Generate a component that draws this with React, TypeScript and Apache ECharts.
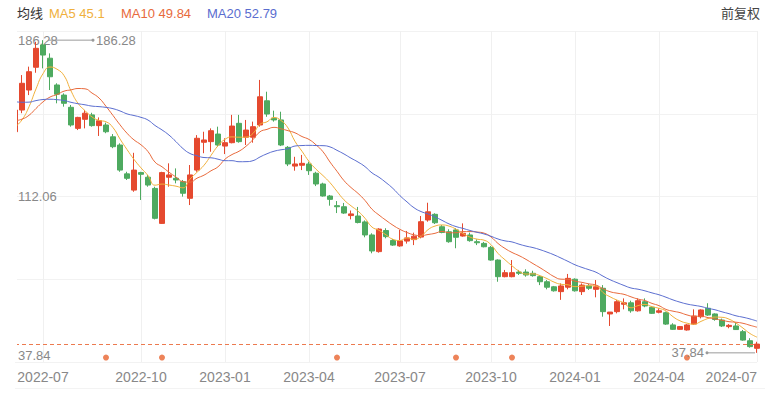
import React, { useEffect, useRef } from 'react';
import * as echarts from 'echarts';

// Weekly K-line (week-ending dates)
const dates = [
  '2022-06-02','2022-06-10','2022-06-17','2022-06-24','2022-07-01','2022-07-08','2022-07-15','2022-07-22','2022-07-29','2022-08-05',
  '2022-08-12','2022-08-19','2022-08-26','2022-09-02','2022-09-09','2022-09-16','2022-09-23','2022-09-30','2022-10-14','2022-10-21',
  '2022-10-28','2022-11-04','2022-11-11','2022-11-18','2022-11-25','2022-12-02','2022-12-09','2022-12-16','2022-12-23','2022-12-30',
  '2023-01-06','2023-01-13','2023-01-20','2023-02-03','2023-02-10','2023-02-17','2023-02-24','2023-03-03','2023-03-10','2023-03-17',
  '2023-03-24','2023-03-31','2023-04-07','2023-04-14','2023-04-21','2023-04-28','2023-05-05','2023-05-12','2023-05-19','2023-05-26',
  '2023-06-02','2023-06-09','2023-06-16','2023-06-21','2023-06-30','2023-07-07','2023-07-14','2023-07-21','2023-07-28','2023-08-04',
  '2023-08-11','2023-08-18','2023-08-25','2023-09-01','2023-09-08','2023-09-15','2023-09-22','2023-09-28','2023-10-13','2023-10-20',
  '2023-10-27','2023-11-03','2023-11-10','2023-11-17','2023-11-24','2023-12-01','2023-12-08','2023-12-15','2023-12-22','2023-12-29',
  '2024-01-05','2024-01-12','2024-01-19','2024-01-26','2024-02-02','2024-02-08','2024-02-23','2024-03-01','2024-03-08','2024-03-15',
  '2024-03-22','2024-03-29','2024-04-03','2024-04-12','2024-04-19','2024-04-26','2024-04-30','2024-05-10','2024-05-17','2024-05-24',
  '2024-05-31','2024-06-07','2024-06-14','2024-06-21','2024-06-28','2024-07-05','2024-07-12',
];

const opens = [
  142.8,153.1,162.6,173.4,184.0,177.7,165.0,160.2,154.4,144.4,
  148.7,150.8,145.7,146.0,140.4,136.5,122.8,115.1,123.4,121.2,
  115.9,99.3,121.2,120.7,119.1,111.2,124.6,137.8,138.1,141.7,
  136.0,137.6,146.8,140.2,140.2,146.0,157.5,149.2,148.4,135.4,
  126.5,126.9,127.5,123.1,118.0,112.3,107.7,107.2,103.0,102.8,
  100.0,93.8,85.9,95.9,91.2,88.6,90.9,91.6,92.8,100.9,
  103.6,97.7,95.3,96.2,93.3,93.8,90.6,89.8,87.9,81.9,
  74.0,74.0,76.2,76.2,75.6,74.0,71.6,69.2,66.9,69.0,
  72.8,66.9,69.6,68.0,68.5,56.3,57.4,60.9,61.6,57.8,
  62.1,59.5,57.1,56.9,51.1,49.0,48.7,51.5,55.0,59.0,
  56.3,53.4,50.3,50.6,47.9,43.6,40.0,
];
const closes = [
  153.1,165.8,171.3,182.4,179.2,168.9,160.6,156.3,146.0,149.6,
  151.6,145.7,148.0,142.8,135.7,124.6,120.7,124.6,122.6,117.5,
  101.7,123.4,122.3,119.9,113.6,122.3,139.7,138.9,143.3,136.5,
  137.6,145.5,138.1,143.6,145.2,159.4,151.2,148.4,136.5,127.5,
  127.5,127.8,124.3,118.0,112.3,110.7,107.2,104.2,103.8,99.7,
  93.8,86.2,96.6,93.0,89.0,91.0,92.4,93.2,100.1,104.8,
  99.6,95.0,90.6,92.7,94.6,91.1,90.1,88.2,81.9,74.0,
  75.9,75.9,75.6,74.8,74.5,71.6,69.0,67.3,69.6,73.2,
  67.3,70.0,68.5,69.2,57.4,57.2,62.1,61.6,57.8,62.6,
  60.1,56.6,57.8,51.5,49.0,50.3,51.1,55.3,58.2,55.8,
  53.7,50.6,50.9,48.9,43.9,40.8,42.0,
];
const lows = [
  142.0,151.6,160.2,170.8,172.9,162.6,156.3,154.7,145.2,143.6,
  144.4,145.2,140.8,142.1,135.0,123.8,119.9,114.3,110.4,116.7,
  101.2,99.0,116.7,118.3,112.0,108.0,123.8,132.6,133.3,135.7,
  132.2,137.3,137.6,136.5,137.6,145.2,149.9,147.6,136.0,126.5,
  124.3,124.6,122.3,117.0,112.0,107.7,104.2,103.8,101.2,99.3,
  92.7,85.1,85.4,92.2,88.6,88.2,89.7,89.0,92.2,100.1,
  99.0,94.6,90.1,87.5,93.0,90.6,89.0,87.9,81.6,71.6,
  73.7,73.7,74.8,74.0,74.0,70.0,68.0,66.9,63.0,68.0,
  66.9,65.3,67.7,64.2,55.0,50.6,56.6,58.5,56.9,57.4,
  59.5,56.3,56.6,51.1,48.7,48.7,48.4,51.1,54.2,55.4,
  53.1,50.1,49.5,48.7,43.6,40.3,37.84,
];
const highs = [
  153.6,169.7,173.7,185.5,186.28,180.0,165.8,161.0,155.5,149.9,
  153.1,151.8,149.6,147.1,141.7,137.3,123.8,132.8,123.8,122.3,
  116.7,123.8,127.8,125.4,119.9,127.0,141.2,142.8,144.4,145.2,
  139.7,150.8,150.8,148.4,147.6,167.4,161.8,152.8,152.3,136.0,
  130.9,131.8,128.6,123.8,118.6,112.8,109.9,109.0,105.4,107.1,
  100.7,94.6,97.0,97.0,91.9,96.2,95.7,94.9,102.8,109.1,
  104.1,98.5,96.5,97.0,99.3,94.9,91.7,90.5,88.6,82.2,
  77.2,81.9,77.2,77.5,76.8,74.8,72.4,69.6,70.8,75.3,
  73.2,70.8,70.5,72.4,70.0,57.2,62.9,63.7,62.6,63.7,
  63.7,60.1,59.0,57.4,51.9,50.6,51.5,58.5,58.5,61.4,
  56.6,54.1,51.5,52.1,48.7,44.8,43.1,
];

// closes of the 19 weeks before the visible window (needed for the moving averages)
const priorCloses = [
  172,170,168,169,166,165,164,163,163,162,
  158,153,150,148,146,148.6,140.3,140,143,
];

const maLatest = ['45.1', '49.84', '52.79'];
const quarterTickIdx = [4, 18, 30, 42, 55, 68, 80, 92, 106];
const eventIdx = [13, 21, 46, 63, 71, 96];
const eventLevel = 35.6;

const C_UP = '#e5492f';
const C_DOWN = '#4eaa60';
const C_MA5 = '#f0b03c';
const C_MA10 = '#e86a3c';
const C_MA20 = '#5a6dcf';
const FONT = "'Liberation Sans', Arial, 'Noto Sans CJK SC', sans-serif";

function movingAverage(n: number): (number | string)[] {
  const all = priorCloses.concat(closes);
  const off = priorCloses.length;
  return closes.map((_, i) => {
    let s = 0;
    for (let k = off + i - n + 1; k <= off + i; k++) s += all[k];
    return +(s / n).toFixed(3);
  });
}

export default function App() {
  const ref = useRef<HTMLDivElement>(null);
  useEffect(() => {
    if (!ref.current) return;
    const chart = echarts.init(ref.current, undefined, { renderer: 'svg' });
    const hi = Math.max(...highs);
    const lo = Math.min(...lows);
    const mid = (hi + lo) / 2;
    const yMin = 33.5;
    const yMax = 190.62;
    const tickSet = new Set(quarterTickIdx);
    const lastClose = closes[closes.length - 1];

    chart.setOption({
      animation: false,
      backgroundColor: '#ffffff',
      textStyle: { fontFamily: FONT },
      grid: { left: 15, right: 13, top: 31, bottom: 31 },
      xAxis: {
        type: 'category',
        data: dates,
        boundaryGap: false,
        axisLine: { show: false },
        axisTick: { show: false },
        axisLabel: {
          interval: (idx: number) => tickSet.has(idx),
          formatter: (v: string) => v.slice(0, 7),
          color: '#888',
          fontSize: 14,
          margin: 8,
          fontFamily: FONT,
          alignMaxLabel: 'right',
        },
        splitLine: {
          show: true,
          interval: (idx: number) => tickSet.has(idx),
          lineStyle: { color: '#f0f0f0', width: 1 },
        },
      },
      yAxis: {
        type: 'value',
        min: yMin,
        max: yMax,
        interval: 39.28,
        axisLine: { show: false },
        axisTick: { show: false },
        splitLine: { show: true, lineStyle: { color: '#f2f2f2', width: 1 } },
        axisLabel: {
          inside: true,
          margin: 3,
          color: '#888',
          fontSize: 13,
          fontFamily: FONT,
          formatter: (_v: number, idx: number) => {
            if (idx === 4) return '{t|' + hi.toFixed(2) + '}';
            if (idx === 2) return '{m|' + mid.toFixed(2) + '}';
            if (idx === 0) return '{b|' + lo.toFixed(2) + '}';
            return '';
          },
          rich: {
            t: { fontSize: 13, color: '#888', padding: [18, 0, 0, 0], fontFamily: FONT },
            m: { fontSize: 13, color: '#888', fontFamily: FONT },
            b: { fontSize: 13, color: '#888', padding: [0, 0, 14, 0], fontFamily: FONT },
          },
        },
      },
      series: [
        {
          type: 'candlestick',
          data: opens.map((o, i) => [o, closes[i], lows[i], highs[i]]),
          barWidth: 5,
          clip: true,
          itemStyle: {
            color: C_UP,
            color0: C_DOWN,
            borderColor: C_UP,
            borderColor0: C_DOWN,
            borderWidth: 1,
          },
          markLine: {
            silent: true,
            symbol: 'none',
            label: { show: false },
            lineStyle: { color: '#ec7a4f', type: [4, 3], width: 1 },
            data: [{ yAxis: lastClose }],
          },
        },
        {
          type: 'line', name: 'MA5', data: movingAverage(5), smooth: true, showSymbol: false,
          lineStyle: { color: C_MA5, width: 1 }, itemStyle: { color: C_MA5 },
        },
        {
          type: 'line', name: 'MA10', data: movingAverage(10), smooth: true, showSymbol: false,
          lineStyle: { color: C_MA10, width: 1 }, itemStyle: { color: C_MA10 },
        },
        {
          type: 'line', name: 'MA20', data: movingAverage(20), smooth: true, showSymbol: false,
          lineStyle: { color: C_MA20, width: 1 }, itemStyle: { color: C_MA20 },
        },
        {
          type: 'scatter',
          data: eventIdx.map((i) => [i, eventLevel]),
          symbolSize: 6,
          itemStyle: { color: '#e8642f' },
          silent: true,
        },
      ],
    });

    const hiIdx = highs.indexOf(hi);
    const loIdx = lows.indexOf(lo);
    const pHi = chart.convertToPixel({ gridIndex: 0 }, [hiIdx, hi]) as number[];
    const pLo = chart.convertToPixel({ gridIndex: 0 }, [loIdx, lo]) as number[];
    const p0 = chart.convertToPixel({ gridIndex: 0 }, [0, hi]) as number[];

    const txt = (x: number, y: number, text: string, fill: string, align = 'left') => ({
      type: 'text', x, y, z: 110,
      style: { text, fill, font: `13px ${FONT}`, textAlign: align, textVerticalAlign: 'middle' },
    });

    chart.setOption({
      graphic: [
        // white mask hiding the part of the first candle that lies left of the plot
        {
          type: 'rect',
          shape: { x: 0, y: 31, width: p0[0] + 2, height: 331 },
          style: { fill: '#ffffff' },
          z: 100,
          silent: true,
        },
        txt(17, 13, '均线', '#333'),
        txt(49, 13, 'MA5 ' + maLatest[0], C_MA5),
        txt(121, 13, 'MA10 ' + maLatest[1], C_MA10),
        txt(207, 13, 'MA20 ' + maLatest[2], C_MA20),
        txt(760, 13, '前复权', '#444', 'right'),
        {
          type: 'line', z: 110,
          shape: { x1: pHi[0] + 5, y1: pHi[1], x2: pHi[0] + 50, y2: pHi[1] },
          style: { stroke: '#9a9a9a', lineWidth: 1 },
        },
        { type: 'circle', z: 110, shape: { cx: pHi[0] + 50, cy: pHi[1], r: 1.5 }, style: { fill: '#9a9a9a' } },
        txt(pHi[0] + 53, pHi[1], hi.toFixed(2), '#888'),
        {
          type: 'line', z: 110,
          shape: { x1: pLo[0] - 2, y1: pLo[1], x2: pLo[0] - 50, y2: pLo[1] },
          style: { stroke: '#9a9a9a', lineWidth: 1 },
        },
        { type: 'circle', z: 110, shape: { cx: pLo[0] - 50, cy: pLo[1], r: 1.5 }, style: { fill: '#9a9a9a' } },
        txt(pLo[0] - 53, pLo[1], lo.toFixed(2), '#888', 'right'),
        {
          type: 'line',
          shape: { x1: 15, y1: 388.5, x2: 765, y2: 388.5 },
          style: { stroke: '#f3f3f3', lineWidth: 1 },
        },
      ],
    });

    return () => chart.dispose();
  }, []);

  return (
    <div
      ref={ref}
      style={{ position: 'fixed', left: 0, top: 0, width: 770, height: 393, background: '#fff' }}
    />
  );
}
